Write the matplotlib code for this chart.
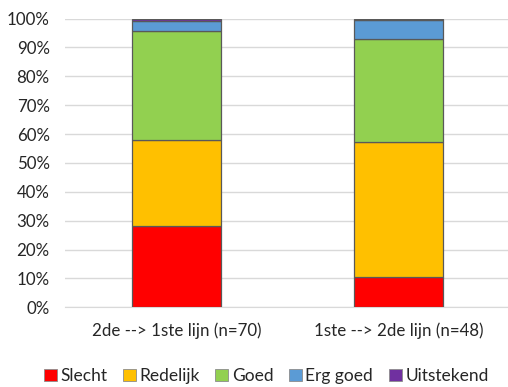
import matplotlib
matplotlib.use("Agg")
import matplotlib.pyplot as plt
from matplotlib.patches import Patch
import numpy as np

plt.rcParams['font.family'] = ['Lato', 'DejaVu Sans']

categories = ["2de --> 1ste lijn (n=70)", "1ste --> 2de lijn (n=48)"]
series = ["Slecht", "Redelijk", "Goed", "Erg goed", "Uitstekend"]
slecht = [28.3, 10.6]
redelijk = [29.5, 46.6]
goed = [37.9, 35.6]
erg_goed = [3.6, 6.6]
uitstekend = [0.7, 0.6]
colors = ["#FF0000", "#FFC000", "#92D050", "#5B9BD5", "#7030A0"]
yticks = [0, 10, 20, 30, 40, 50, 60, 70, 80, 90, 100]

fig = plt.figure(figsize=(5.08, 3.87), dpi=100)
ax = fig.add_axes([0.128, 0.206, 0.872, 0.746])

x = np.arange(len(categories))
bottom = np.zeros(len(categories))
for name, vals, col in zip(series, [slecht, redelijk, goed, erg_goed, uitstekend], colors):
    ax.bar(x, vals, width=0.40, bottom=bottom, color=col, edgecolor="#595959",
           linewidth=0.9, zorder=3)
    bottom += np.array(vals)

ax.set_xlim(-0.5, 1.49)
ax.set_ylim(0, 100)
ax.set_yticks(yticks)
ax.set_yticklabels([f"{t}%" for t in yticks])
ax.set_xticks(x)
ax.set_xticklabels(categories)
ax.grid(axis="y", color="#d9d9d9", linewidth=1, zorder=0)
for s in ["top", "right", "left"]:
    ax.spines[s].set_visible(False)
ax.spines["bottom"].set_color("#d9d9d9")
ax.tick_params(axis="both", length=0, labelsize=12.2, colors="#262626")
ax.tick_params(axis="y", pad=11)
ax.tick_params(axis="x", pad=11)

handles = [Patch(facecolor=c, edgecolor="#8c8c8c", linewidth=0.6) for c in colors]
fig.legend(handles, series, loc="center", bbox_to_anchor=(0.524, 0.028), ncol=5,
           frameon=False, fontsize=12.5, handlelength=0.75, handleheight=0.75,
           handletextpad=0.2, columnspacing=0.9, labelcolor="#262626")

fig.savefig("out.png", dpi=100)
